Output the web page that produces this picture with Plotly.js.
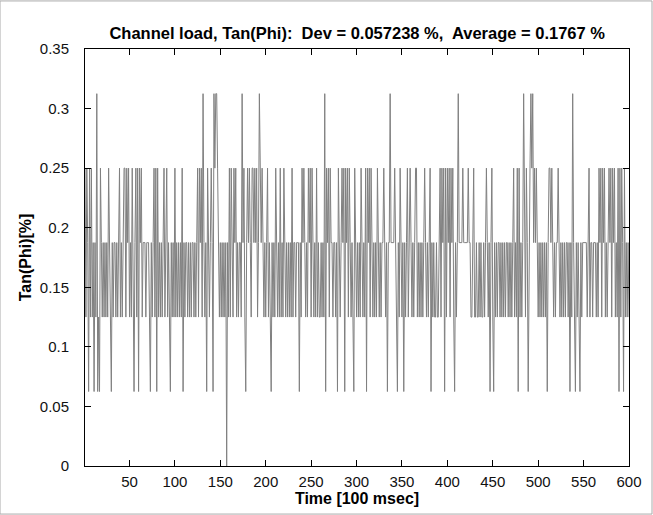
<!DOCTYPE html>
<html>
<head>
<meta charset="utf-8">
<script src="https://cdn.plot.ly/plotly-3.0.1.min.js"></script>
<style>
html,body{margin:0;padding:0;background:#fff;}
#chart{width:653px;height:515px;}
</style>
</head>
<body>
<div id="chart"></div>
<script>
// Channel load Tan(Phi) samples [%], sample index 1..600 (100 msec each)
var seg01 = [0.25,0.125,0.25,0.1875,0.0625,0.25,0.125,0.25,0.125,0.1875,
0.0625,0.1875,0.125,0.3125,0.0625,0.125,0.0625,0.25,0.1875,0.125,
0.1875,0.125,0.1875,0.125,0.1875,0.125,0.25,0.1875,0.125,0.0625,
0.1875,0.125,0.1875,0.1875,0.125,0.1875,0.125,0.1875,0.25,0.125,
0.1875,0.125,0.1875,0.25,0.25,0.125,0.25,0.1875,0.25,0.125];
var seg02 = [0.1875,0.125,0.25,0.125,0.0625,0.1875,0.25,0.125,0.25,0.0625,
0.25,0.1875,0.25,0.125,0.1875,0.1875,0.1875,0.125,0.1875,0.1875,
0.1875,0.125,0.0625,0.1875,0.125,0.1875,0.25,0.125,0.25,0.0625,
0.25,0.125,0.1875,0.125,0.1875,0.125,0.1875,0.25,0.125,0.1875,
0.25,0.125,0.1875,0.125,0.0625,0.1875,0.125,0.1875,0.125,0.25];
var seg03 = [0.125,0.1875,0.125,0.1875,0.125,0.1875,0.125,0.25,0.0625,0.1875,
0.125,0.1875,0.1875,0.125,0.1875,0.125,0.1875,0.125,0.1875,0.1875,
0.125,0.1875,0.125,0.1875,0.25,0.125,0.25,0.1875,0.25,0.125,
0.3125,0.1875,0.125,0.1875,0.0625,0.25,0.1875,0.125,0.1875,0.25,
0.1875,0.0625,0.3125,0.25,0.3125,0.3125,0.25,0.1875,0.125,0.1875];
var seg04 = [0.125,0.1875,0.125,0.1875,0.125,0.1875,0,0.1875,0.125,0.25,
0.125,0.25,0.1875,0.125,0.25,0.1875,0.25,0.125,0.1875,0.125,
0.1875,0.1875,0.125,0.3125,0.1875,0.25,0.125,0.0625,0.1875,0.25,
0.1875,0.25,0.1875,0.125,0.25,0.25,0.1875,0.25,0.1875,0.25,
0.125,0.1875,0.3125,0.25,0.1875,0.25,0.1875,0.125,0.1875,0.125];
var seg05 = [0.1875,0.25,0.125,0.1875,0.125,0.0625,0.1875,0.125,0.1875,0.125,
0.25,0.1875,0.125,0.1875,0.125,0.25,0.125,0.1875,0.125,0.25,
0.1875,0.125,0.1875,0.125,0.1875,0.125,0.1875,0.125,0.25,0.125,
0.1875,0.1875,0.125,0.1875,0.1875,0.1875,0.0625,0.1875,0.125,0.25,
0.1875,0.25,0.1875,0.125,0.1875,0.125,0.25,0.1875,0.25,0.125];
var seg06 = [0.25,0.1875,0.125,0.1875,0.125,0.25,0.125,0.1875,0.125,0.125,
0.1875,0.125,0.1875,0.125,0.3125,0.0625,0.25,0.1875,0.25,0.125,
0.25,0.1875,0.1875,0.125,0.1875,0.1875,0.125,0.1875,0.0625,0.25,
0.1875,0.125,0.1875,0.25,0.1875,0.25,0.0625,0.25,0.1875,0.25,
0.125,0.25,0.1875,0.125,0.1875,0.125,0.0625,0.25,0.1875,0.125];
var seg07 = [0.1875,0.125,0.1875,0.125,0.25,0.1875,0.125,0.1875,0.125,0.25,
0.0625,0.25,0.1875,0.25,0.125,0.25,0.1875,0.125,0.1875,0.125,
0.1875,0.125,0.25,0.1875,0.125,0.1875,0.125,0.1875,0.1875,0.25,
0.1875,0.125,0.1875,0.0625,0.1875,0.1875,0.3125,0.1875,0.1875,0.1875,
0.1875,0.25,0.1875,0.125,0.0625,0.1875,0.125,0.25,0.1875,0.125];
var seg08 = [0.1875,0.0625,0.1875,0.125,0.1875,0.25,0.125,0.1875,0.25,0.1875,
0.125,0.1875,0.125,0.1875,0.25,0.25,0.125,0.1875,0.125,0.1875,
0.125,0.1875,0.125,0.1875,0.25,0.1875,0.125,0.1875,0.125,0.1875,
0.25,0.0625,0.1875,0.125,0.1875,0.125,0.125,0.1875,0.125,0.125,
0.1875,0.25,0.125,0.25,0.1875,0.25,0.0625,0.25,0.125,0.25];
var seg09 = [0.1875,0.25,0.125,0.25,0.1875,0.25,0.125,0.0625,0.1875,0.125,
0.1875,0.3125,0.1875,0.1875,0.1875,0.1875,0.25,0.1875,0.1875,0.1875,
0.1875,0.1875,0.25,0.1875,0.1875,0.125,0.125,0.1875,0.25,0.125,
0.125,0.1875,0.125,0.125,0.1875,0.125,0.1875,0.125,0.125,0.1875,
0.125,0.1875,0.25,0.1875,0.125,0.1875,0.0625,0.1875,0.25,0.125];
var seg10 = [0.0625,0.1875,0.125,0.1875,0.125,0.1875,0.1875,0.125,0.1875,0.125,
0.1875,0.125,0.1875,0.125,0.1875,0.1875,0.125,0.1875,0.125,0.1875,
0.125,0.1875,0.25,0.125,0.1875,0.125,0.25,0.0625,0.25,0.125,
0.1875,0.125,0.1875,0.3125,0.1875,0.125,0.25,0.1875,0.0625,0.1875,
0.25,0.3125,0.25,0.3125,0.1875,0.25,0.1875,0.25,0.1875,0.125];
var seg11 = [0.1875,0.125,0.1875,0.125,0.1875,0.125,0.1875,0.125,0.1875,0.0625,
0.1875,0.25,0.25,0.1875,0.25,0.1875,0.125,0.1875,0.125,0.1875,
0.1875,0.25,0.1875,0.125,0.1875,0.125,0.1875,0.125,0.1875,0.125,
0.1875,0.1875,0.125,0.1875,0.0625,0.1875,0.125,0.3125,0.1875,0.125,
0.0625,0.1875,0.125,0.1875,0.125,0.0625,0.1875,0.125,0.1875,0.1875];
var seg12 = [0.1875,0.1875,0.1875,0.125,0.1875,0.25,0.125,0.1875,0.1875,0.125,
0.1875,0.1875,0.1875,0.125,0.1875,0.125,0.25,0.1875,0.25,0.125,
0.25,0.1875,0.25,0.125,0.1875,0.125,0.1875,0.25,0.1875,0.25,
0.125,0.25,0.1875,0.25,0.125,0.1875,0.125,0.25,0.0625,0.25,
0.125,0.25,0.1875,0.0625,0.25,0.125,0.1875,0.125,0.1875,0.125];

var xTicks = [50,100,150,200,250,300,350,400,450,500,550,600];
var yTicks = [0,0.05,0.1,0.15,0.2,0.25,0.3,0.35];
var yTickText = ["0","0.05","0.1","0.15","0.2","0.25","0.3","0.35"];
var titleText = "Channel load, Tan(Phi):\u00a0 Dev = 0.057238 %,\u00a0 Average = 0.1767 %";
var xTitle = "Time [100 msec]";
var yTitle = "Tan(Phi)[%]";

var yVals = [].concat(seg01,seg02,seg03,seg04,seg05,seg06,seg07,seg08,seg09,seg10,seg11,seg12);
var xVals = [];
for (var i = 0; i < yVals.length; i++) xVals.push(i + 1);

var font = 'Liberation Sans, Arial, Helvetica, sans-serif';

var trace = {
  x: xVals, y: yVals, type: 'scatter', mode: 'lines',
  line: {color: '#808080', width: 1},
  hoverinfo: 'none'
};

var axisCommon = {
  showline: true, linecolor: '#000', linewidth: 1, mirror: 'ticks',
  ticks: 'inside', ticklen: 6, tickwidth: 1, tickcolor: '#000',
  showgrid: false, zeroline: false,
  tickfont: {family: font, size: 15, color: '#111'}
};

var layout = {
  width: 653, height: 515,
  paper_bgcolor: '#fff', plot_bgcolor: '#fff',
  margin: {l: 85, r: 24, t: 49, b: 49, pad: 0},
  showlegend: false,
  title: {
    text: '<b>' + titleText + '</b>',
    x: 0.547, xanchor: 'center', y: 0.936, yanchor: 'middle',
    font: {family: font, size: 16.5, color: '#000'}
  },
  xaxis: Object.assign({}, axisCommon, {
    range: [1, 600], tickmode: 'array', tickvals: xTicks,
    ticklabelstandoff: 2,
    title: {text: '<b>' + xTitle + '</b>', standoff: 2, font: {family: font, size: 16, color: '#000'}}
  }),
  yaxis: Object.assign({}, axisCommon, {
    range: [0, 0.35], tickmode: 'array', tickvals: yTicks, ticktext: yTickText,
    ticklabelstandoff: 12,
    title: {text: '<b>' + yTitle + '</b>', standoff: 4, font: {family: font, size: 16, color: '#000'}}
  }),
  shapes: [{
    type: 'rect', xref: 'paper', yref: 'paper',
    x0: -85/544, x1: 1 + 23/544, y0: -48/416.5, y1: 1 + 48/416.5,
    line: {color: '#aaaaaa', width: 1}
  }]
};

Plotly.newPlot('chart', [trace], layout, {staticPlot: true, displayModeBar: false});
</script>
</body>
</html>
